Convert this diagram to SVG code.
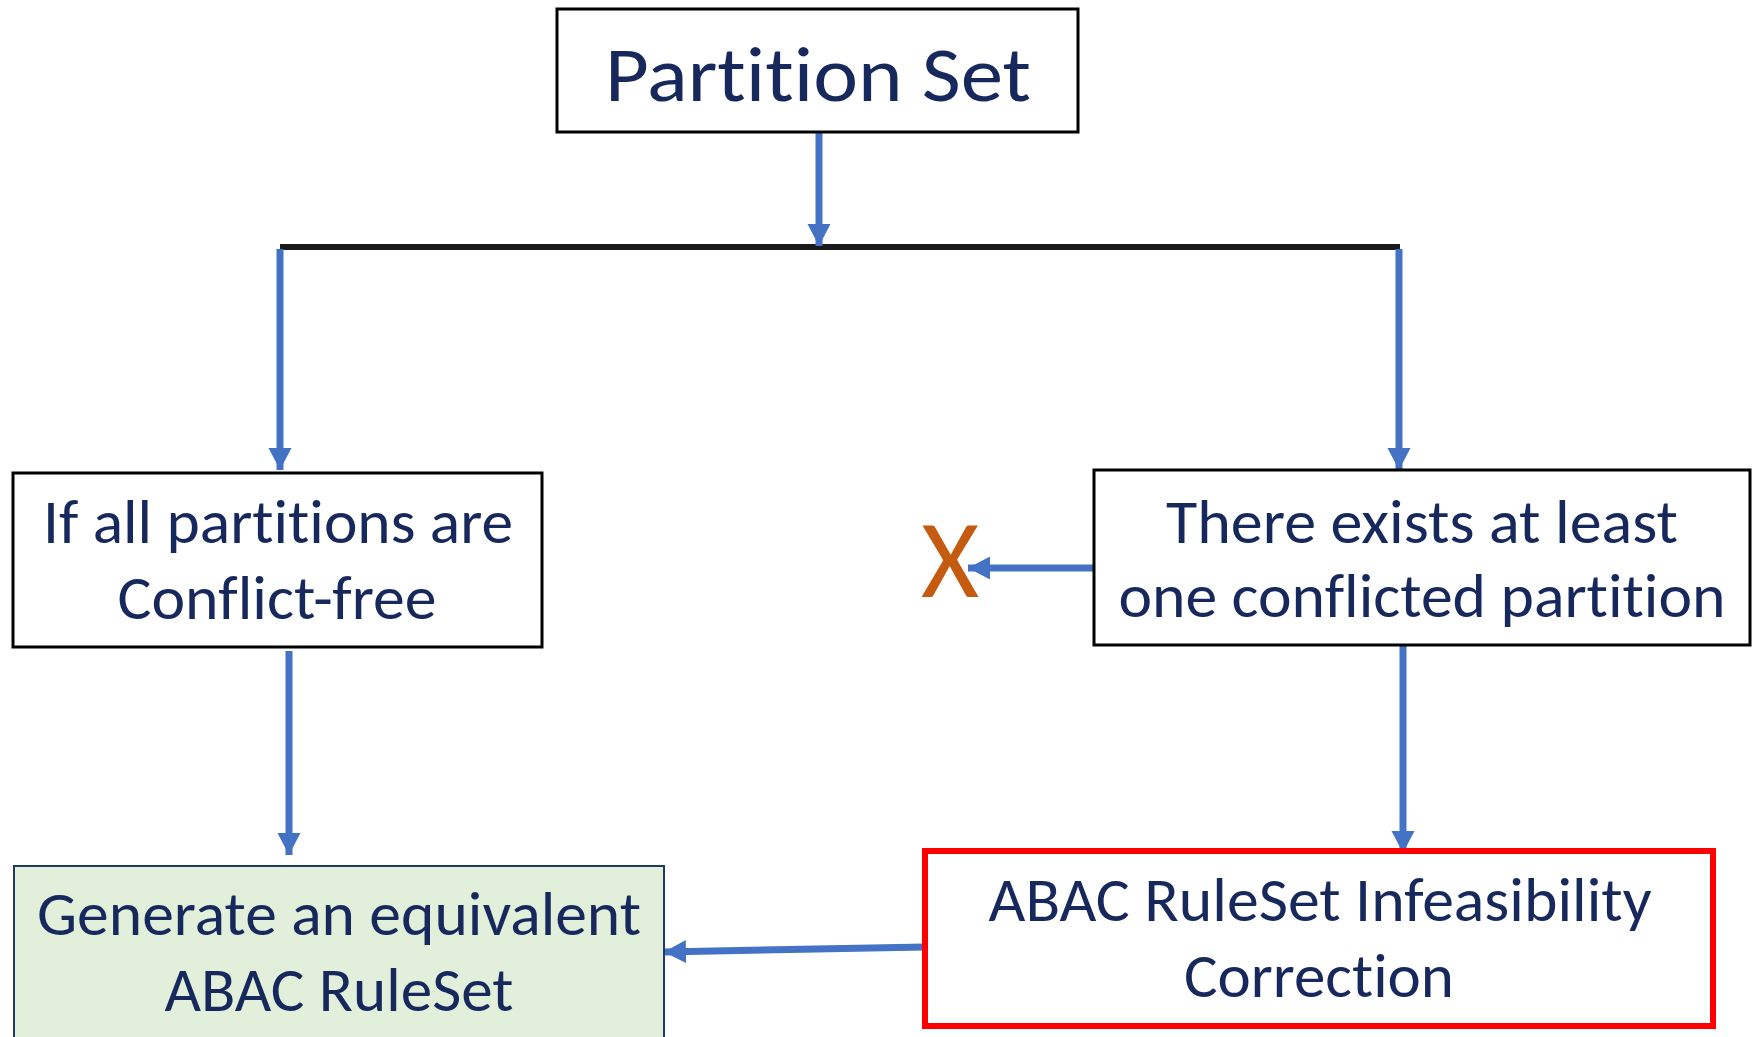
<svg xmlns="http://www.w3.org/2000/svg" width="1756" height="1037" viewBox="0 0 1756 1037">
  <defs>
    <style>
      .box { fill: #ffffff; stroke: #000000; stroke-width: 3; }
      .lbl { font-family: Carlito, Calibri, Lato, "Open Sans", sans-serif; fill: #17285C; text-anchor: middle; font-variant-ligatures: none; font-feature-settings: "liga" 0, "dlig" 0, "clig" 0; }
      .big { font-size: 78px; }
      .mid { font-size: 61px; }
      .flow { stroke: #4472C4; stroke-width: 7; fill: none; marker-end: url(#head); }
    </style>
    <marker id="head" markerUnits="userSpaceOnUse" markerWidth="24" markerHeight="24" refX="22" refY="11.5" orient="auto">
      <path d="M0,0 L22,11.5 L0,23 Z" fill="#4472C4"/>
    </marker>
  </defs>
  <rect width="1756" height="1037" fill="#ffffff"/>

  <!-- connectors -->
  <g id="connectors">
    <line x1="280" y1="247" x2="1400" y2="247" stroke="#1a1a1a" stroke-width="6"/>
    <line class="flow" x1="819" y1="132" x2="819" y2="246"/>
    <line class="flow" x1="280" y1="249" x2="280" y2="470"/>
    <line class="flow" x1="1399" y1="249" x2="1399" y2="470"/>
    <line class="flow" x1="1099" y1="568" x2="968" y2="568"/>
    <line class="flow" x1="289" y1="651" x2="289" y2="855"/>
    <line class="flow" x1="1403" y1="645" x2="1403" y2="853"/>
    <line class="flow" x1="925" y1="947" x2="664" y2="952"/>
  </g>

  <!-- start node -->
  <g id="partition-set">
    <rect class="box" x="557" y="9" width="521" height="123"/>
    <text class="lbl big" x="818" y="101" textLength="426" lengthAdjust="spacingAndGlyphs">Partition Set</text>
  </g>

  <!-- left branch -->
  <g id="conflict-free">
    <rect class="box" x="13" y="473" width="529" height="174"/>
    <text class="lbl mid" x="278" y="543" textLength="470" lengthAdjust="spacingAndGlyphs">If all partitions are</text>
    <text class="lbl mid" x="277" y="619" textLength="319" lengthAdjust="spacingAndGlyphs">Conflict-free</text>
  </g>

  <!-- right branch -->
  <g id="conflicted">
    <rect class="box" x="1094" y="470" width="656" height="175"/>
    <text class="lbl mid" x="1422" y="543" textLength="512" lengthAdjust="spacingAndGlyphs">There exists at least</text>
    <text class="lbl mid" x="1422" y="617" textLength="607" lengthAdjust="spacingAndGlyphs">one conflicted partition</text>
  </g>

  <!-- rejection mark -->
  <g id="reject">
    <text x="950" y="597" font-family="Carlito, Calibri, Lato, sans-serif" font-size="112" fill="#C55A11" text-anchor="middle">X</text>
  </g>

  <!-- output node -->
  <g id="generate">
    <rect x="14" y="866" width="650" height="180" fill="#E2EFDA" stroke="#1F3864" stroke-width="2"/>
    <text class="lbl mid" x="339" y="935" textLength="604" lengthAdjust="spacingAndGlyphs">Generate an equivalent</text>
    <text class="lbl mid" x="339" y="1011" textLength="349" lengthAdjust="spacingAndGlyphs">ABAC RuleSet</text>
  </g>

  <!-- correction node -->
  <g id="correction">
    <rect x="925" y="851" width="788" height="175" fill="#ffffff" stroke="#FF0000" stroke-width="6"/>
    <text class="lbl mid" x="1320" y="921" textLength="663" lengthAdjust="spacingAndGlyphs">ABAC RuleSet Infeasibility</text>
    <text class="lbl mid" x="1319" y="997" textLength="270" lengthAdjust="spacingAndGlyphs">Correction</text>
  </g>
</svg>
